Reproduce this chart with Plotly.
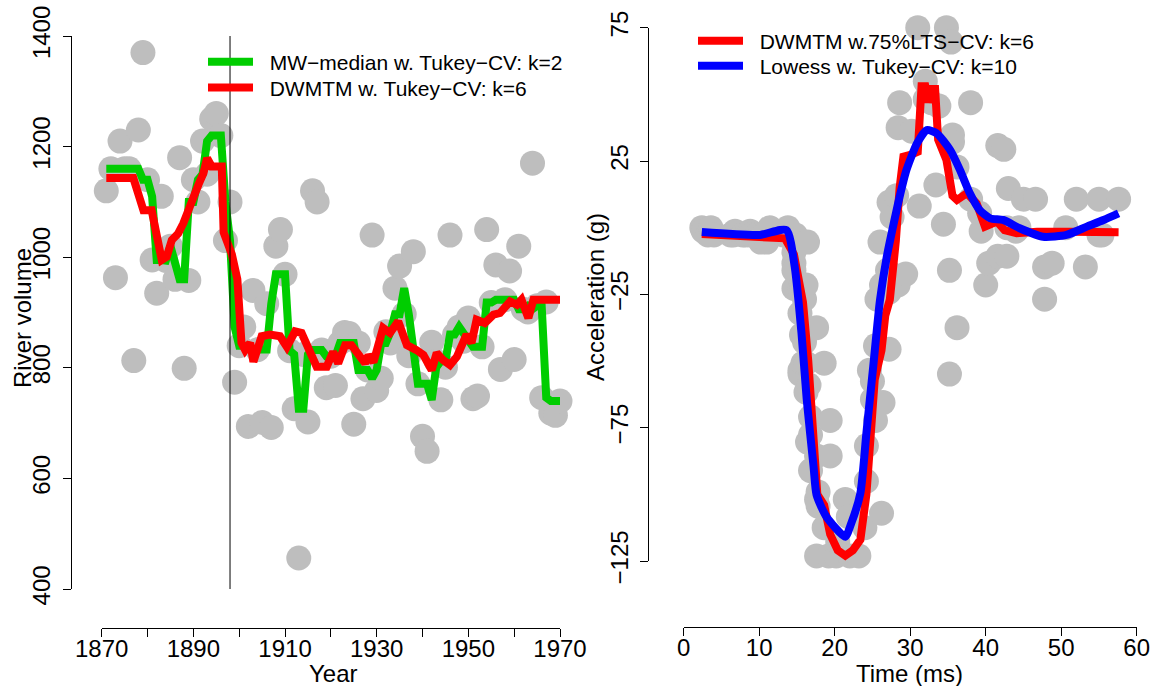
import plotly.graph_objects as go

# ---------------- data: left panel (Nile river volume) ----------------
years = list(range(1871, 1971))
nile_volume = [1120, 1160, 963, 1210, 1160, 1160, 813, 1230, 1370, 1140,
               995, 935, 1110, 994, 1020, 960, 1180, 799, 958, 1140,
               1100, 1210, 1150, 1250, 1260, 1220, 1030, 1100, 774, 840,
               874, 694, 940, 833, 701, 916, 692, 1020, 1050, 969,
               831, 726, 456, 824, 702, 1120, 1100, 832, 764, 821,
               768, 845, 864, 862, 698, 845, 744, 796, 1040, 759,
               781, 865, 845, 944, 984, 897, 822, 1010, 771, 676,
               649, 846, 812, 742, 801, 1040, 860, 874, 848, 890,
               744, 749, 838, 1050, 918, 986, 797, 923, 975, 815,
               1020, 906, 901, 1170, 912, 746, 919, 718, 714, 740]

mw_median = [1160, 1160, 1160, 1160, 1160, 1160, 1160, 1160, 1140, 1140,
             1110, 995, 995, 994, 1020, 994, 960, 960, 1100, 1100,
             1140, 1150, 1210, 1220, 1220, 1220, 1100, 1030, 874, 840,
             840, 840, 833, 833, 833, 833, 916, 969, 969, 969,
             831, 824, 726, 726, 824, 832, 832, 832, 821, 821,
             821, 845, 845, 845, 845, 796, 796, 796, 781, 796,
             845, 845, 865, 897, 897, 944, 897, 822, 771, 771,
             771, 742, 801, 812, 812, 860, 860, 874, 860, 848,
             838, 838, 838, 918, 918, 923, 923, 923, 923, 923,
             906, 906, 912, 906, 912, 912, 746, 740, 740, 740]

dwmtm_years = [1871, 1876.9, 1879.1, 1880.9, 1883.1, 1884.2, 1885.3, 1886.7, 1887.8, 1889.3,
               1890.4, 1891.1, 1892.2, 1893.0, 1894.0, 1896.2, 1896.6, 1898.4, 1899.6, 1900.5,
               1901.3, 1902.4, 1903.1, 1904.9, 1906.7, 1908.9, 1910.4, 1912.2, 1913.6, 1915.1,
               1916.9, 1919.1, 1920.5, 1921.6, 1923.1, 1924.5, 1926.4, 1927.5, 1928.2, 1929.3,
               1931.4, 1932.9, 1934.7, 1936.6, 1938.7, 1940.2, 1942.0, 1943.1, 1944.5, 1946.0,
               1947.5, 1949.6, 1950.7, 1951.8, 1953.6, 1955.5, 1956.9, 1959.1, 1960.6, 1961.6,
               1963.1, 1964.2, 1970]
dwmtm_values = [1143, 1143, 1085, 1085, 995, 1001, 1031, 1043, 1061, 1097,
                1122, 1131, 1152, 1179, 1164, 1164, 1045, 1005, 960, 845,
                832, 845, 811, 857, 860, 857, 838, 866, 863, 832,
                802, 802, 829, 808, 841, 841, 823, 808, 823, 810,
                872, 863, 884, 841, 832, 823, 796, 827, 814, 805,
                820, 860, 845, 887, 881, 896, 899, 920, 914, 923,
                890, 923, 923]

left_xticks = list(range(1870, 1971, 10))
left_xlabels = ["1870", "", "1890", "", "1910", "", "1930", "", "1950", "", "1970"]
left_yticks = [400, 600, 800, 1000, 1200, 1400]

# ---------------- data: right panel (motorcycle acceleration) ----------------
mc_time = [2.4, 2.6, 3.2, 3.6, 4.0, 6.2, 6.6, 6.8, 7.8, 8.2,
           8.8, 8.8, 9.6, 10.0, 10.2, 10.6, 11.0, 11.4, 13.2, 13.6,
           13.8, 14.6, 14.6, 14.6, 14.6, 14.6, 14.6, 14.8, 15.4, 15.4,
           15.4, 15.4, 15.6, 15.6, 15.8, 15.8, 16.0, 16.0, 16.2, 16.2,
           16.2, 16.4, 16.4, 16.6, 16.8, 16.8, 16.8, 17.6, 17.6, 17.6,
           17.6, 17.8, 17.8, 18.6, 18.6, 19.2, 19.4, 19.4, 19.6, 20.2,
           20.4, 21.2, 21.4, 21.8, 22.0, 23.2, 23.4, 24.0, 24.2, 24.2,
           24.6, 25.0, 25.0, 25.4, 25.4, 25.6, 26.0, 26.2, 26.2, 26.4,
           27.0, 27.2, 27.2, 27.2, 27.6, 28.2, 28.4, 28.4, 28.6, 29.4,
           30.2, 31.0, 31.2, 32.0, 32.0, 32.8, 33.4, 33.8, 34.4, 34.8,
           35.2, 35.2, 35.4, 35.6, 35.6, 36.2, 36.2, 38.0, 38.0, 39.2,
           39.4, 40.0, 40.4, 41.6, 41.6, 42.4, 42.8, 42.8, 43.0, 44.0,
           44.4, 45.0, 46.6, 47.8, 47.8, 48.8, 50.6, 52.0, 53.2, 55.0,
           55.0, 55.4, 57.6]
mc_accel = [0.0, -1.3, -2.7, 0.0, -2.7, -2.7, -2.7, -1.3, -2.7, -2.7,
            -1.3, -2.7, -2.7, -2.7, -5.4, -2.7, -5.4, 0.0, -2.7, -2.7,
            0.0, -13.3, -5.4, -5.4, -9.3, -16.0, -22.8, -2.7, -22.8, -32.1,
            -53.5, -54.9, -40.2, -21.5, -21.5, -50.8, -42.9, -26.8, -21.5, -50.8,
            -61.7, -5.4, -80.4, -59.0, -71.0, -91.1, -77.7, -37.5, -85.6, -123.1,
            -101.9, -99.1, -104.4, -112.5, -50.8, -123.1, -85.6, -72.3, -127.2, -123.1,
            -117.9, -134.0, -101.9, -108.4, -123.1, -123.1, -128.5, -112.5, -95.1, -81.8,
            -53.5, -64.4, -57.6, -72.3, -44.3, -26.8, -5.4, -107.1, -21.5, -65.6,
            -16.0, -45.6, -24.2, 9.5, 4.0, 12.0, -21.5, 37.5, 46.9, -17.4,
            36.2, 75.0, 8.1, 54.9, 48.2, 46.9, 16.0, 45.6, 1.3, 75.0,
            -16.0, -54.9, 69.6, 34.8, 32.1, -37.5, 22.8, 46.9, 10.7, 5.4,
            -1.3, -21.5, -13.3, 30.8, -10.7, 29.4, 0.0, -10.7, 14.7, -1.3,
            0.0, 10.7, 10.7, -26.8, -14.7, -13.3, 0.0, 10.7, -14.7, -2.7,
            10.7, -2.7, 10.7]

lts_time = [2.4, 13.4, 14.6, 15.8, 16.5, 17.2, 17.7, 18.6, 19.4, 20.4,
            21.4, 22.4, 23.4, 24.2, 24.7, 25.3, 26.2, 26.7, 27.3, 27.7,
            28.1, 28.6, 29.1, 30.0, 31.0, 31.5, 32.0, 32.4, 32.9, 33.3,
            33.7, 34.8, 35.6, 36.2, 37.5, 38.8, 39.9, 41.5, 42.5, 44.1,
            46.8, 51.2, 57.6]
lts_accel = [-2.4, -4.0, -10.0, -28.0, -50.0, -80.0, -100.0, -104.0, -115.0, -121.0,
             -123.0, -121.0, -117.0, -100.0, -77.0, -57.0, -46.0, -33.0, -27.0, -17.0,
             -5.0, 15.0, 26.6, 27.3, 28.5, 53.0, 53.0, 47.0, 52.0, 52.0,
             33.0, 25.4, 12.0, 10.4, 12.9, 9.1, 0.4, 2.3, -0.9, -2.1,
             -1.5, -1.5, -1.7]

lowess_time = [2.4, 10.1, 13.6, 14.7, 15.6, 16.3, 17.2, 17.6, 18.9, 21.4,
               22.2, 23.4, 24.2, 25.1, 26.0, 26.9, 28.2, 28.6, 29.5, 30.9,
               32.2, 33.5, 35.3, 36.6, 37.9, 39.2, 40.6, 42.3, 44.5, 47.6,
               50.7, 53.4, 55.6, 57.6]
lowess_accel = [-1.6, -2.7, -0.9, -14.6, -39.5, -64.6, -89.6, -100.2, -108.4, -115.9,
                -110.8, -99.6, -77.0, -52.1, -27.1, -10.9, 6.6, 11.6, 21.6, 31.6,
                36.6, 35.4, 29.1, 21.6, 12.9, 6.6, 3.5, 2.9, -0.2, -3.4,
                -2.7, 0.4, 2.9, 5.4]

right_xticks = [0, 10, 20, 30, 40, 50, 60]
right_yticks = [-125, -75, -25, 25, 75]
right_ylabels = ["\u2212125", "\u221275", "\u221225", "25", "75"]

# ---------------- figure ----------------
W, H = 1160, 686
FONT = "Liberation Sans, Arial, Helvetica, sans-serif"
GREY = "#bebebe"
GREEN = "#00cd00"
RED = "#ff0000"
BLUE = "#0000ff"
GAP = "\u00a0\u00a0"  # spacing between legend key and label


def px_x(p):
    return p / W


def px_y(p):
    return 1 - p / H


fig = go.Figure()

fig.add_trace(go.Scatter(x=years, y=nile_volume, mode="markers",
                         marker=dict(size=25, color=GREY, line=dict(width=0)),
                         cliponaxis=False, showlegend=False, xaxis="x", yaxis="y"))
fig.add_trace(go.Scatter(x=years, y=mw_median, mode="lines",
                         line=dict(color=GREEN, width=8),
                         name=GAP + "MW\u2212median w. Tukey\u2212CV: k=2",
                         xaxis="x", yaxis="y", legend="legend"))
fig.add_trace(go.Scatter(x=dwmtm_years, y=dwmtm_values, mode="lines",
                         line=dict(color=RED, width=8),
                         name=GAP + "DWMTM w. Tukey\u2212CV: k=6",
                         xaxis="x", yaxis="y", legend="legend2"))

fig.add_trace(go.Scatter(x=mc_time, y=mc_accel, mode="markers",
                         marker=dict(size=25, color=GREY, line=dict(width=0)),
                         cliponaxis=False, showlegend=False, xaxis="x2", yaxis="y2"))
fig.add_trace(go.Scatter(x=lts_time, y=lts_accel, mode="lines",
                         line=dict(color=RED, width=8),
                         name=GAP + "DWMTM w.75%LTS\u2212CV: k=6",
                         xaxis="x2", yaxis="y2", legend="legend3"))
fig.add_trace(go.Scatter(x=lowess_time, y=lowess_accel, mode="lines",
                         line=dict(color=BLUE, width=8, shape="spline", smoothing=0.6),
                         name=GAP + "Lowess w. Tukey\u2212CV: k=10",
                         xaxis="x2", yaxis="y2", legend="legend4"))

axis_common = dict(showgrid=False, zeroline=False, showline=True, linecolor="black",
                   linewidth=1, ticks="outside", ticklen=8, tickwidth=1,
                   tickcolor="black", tickfont=dict(family=FONT, size=24, color="black"),
                   automargin=False, anchor="free", fixedrange=True)


def legend_at(xpx, ypx_center):
    return dict(x=px_x(xpx), y=px_y(ypx_center - 21), xanchor="left", yanchor="top",
                bgcolor="rgba(0,0,0,0)", font=dict(family=FONT, size=21, color="black"),
                itemwidth=45, tracegroupgap=0)


fig.update_layout(
    width=W, height=H,
    margin=dict(l=0, r=0, t=0, b=0),
    paper_bgcolor="white", plot_bgcolor="white",
    font=dict(family=FONT, color="black"),
    xaxis=dict(domain=[px_x(101.7), px_x(560.0)], range=[1870, 1970],
               position=px_y(627.7), tickmode="array", tickvals=left_xticks,
               ticktext=left_xlabels, ticklabelstandoff=-9, **axis_common),
    yaxis=dict(domain=[px_y(589.0), px_y(36.0)], range=[400, 1400],
               position=px_x(71.0), tickmode="array", tickvals=left_yticks,
               tickangle=-90, ticklabelstandoff=3, **axis_common),
    xaxis2=dict(domain=[px_x(683.7), px_x(1136.7)], range=[0, 60],
                position=px_y(627.0), tickmode="array", tickvals=right_xticks,
                ticklabelstandoff=-9, **axis_common),
    yaxis2=dict(domain=[px_y(561.0), px_y(27.7)], range=[-125, 75],
                position=px_x(648.3), tickmode="array", tickvals=right_yticks,
                ticktext=right_ylabels, tickangle=-90, ticklabelstandoff=3,
                **axis_common),
    legend=legend_at(203, 62.7),
    legend2=legend_at(203, 88.3),
    legend3=legend_at(693, 41.7),
    legend4=legend_at(693, 66.7),
    showlegend=True,
)

# vertical reference line at 1898
fig.add_shape(type="line", xref="x", yref="y", x0=1898, x1=1898, y0=400, y1=1400,
              line=dict(color="black", width=1), layer="above")

# axis titles
title_font = dict(family=FONT, size=24, color="black")
fig.add_annotation(text="Year", xref="paper", yref="paper", x=px_x(333), y=px_y(673),
                   xanchor="center", yanchor="middle", showarrow=False, font=title_font)
fig.add_annotation(text="Time (ms)", xref="paper", yref="paper", x=px_x(909), y=px_y(673),
                   xanchor="center", yanchor="middle", showarrow=False, font=title_font)
fig.add_annotation(text="River volume", xref="paper", yref="paper", x=px_x(22), y=px_y(318),
                   xanchor="center", yanchor="middle", showarrow=False, textangle=-90,
                   font=title_font)
fig.add_annotation(text="Acceleration (g)", xref="paper", yref="paper", x=px_x(596), y=px_y(297),
                   xanchor="center", yanchor="middle", showarrow=False, textangle=-90,
                   font=title_font)

fig.write_html("out.html")
